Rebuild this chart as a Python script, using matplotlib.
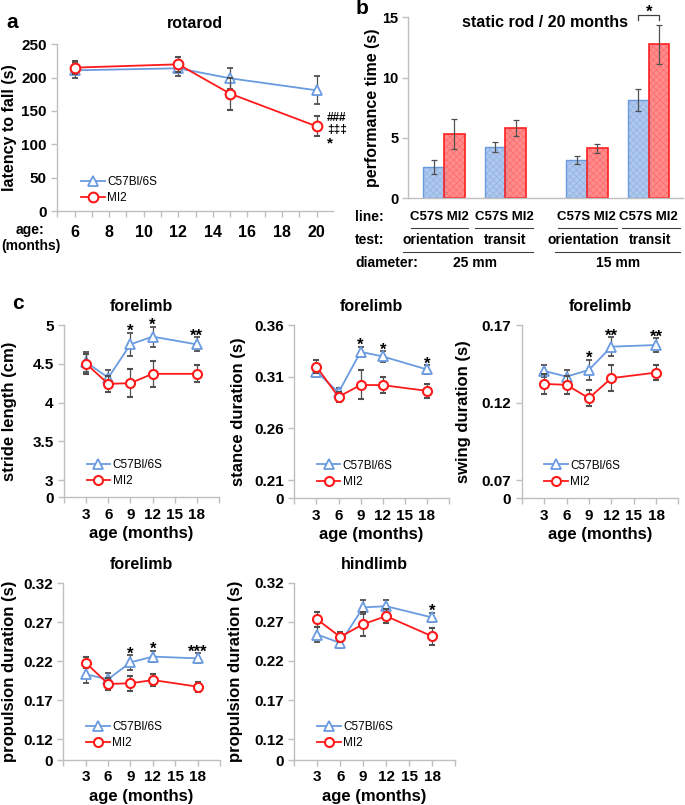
import matplotlib
matplotlib.use("Agg")
import matplotlib.pyplot as plt
import numpy as np

plt.rcParams['font.family'] = ['Liberation Sans', 'DejaVu Sans']
plt.rcParams['hatch.linewidth'] = 0.5

W, H = 685, 805
BLUE = '#6a9be0'
RED = '#ff1a1a'
ERRC = '#505050'
SPINE = '#bfbfbf'

# ---------------- data ----------------
# panel a: rotarod
rot_age = [6, 12, 15, 20]
rot_c57 = [211, 214, 199, 181]
rot_c57_err = [11, 11, 16, 21]
rot_mi2 = [215, 220, 176, 127]
rot_mi2_err = [10, 11, 24, 15]

# panel b: static rod
bar_tests = ['orientation', 'transit', 'orientation', 'transit']
bar_diam = ['25 mm', '15 mm']
bar_c57 = [2.6, 4.25, 3.2, 8.15]
bar_c57_err = [0.6, 0.45, 0.33, 0.9]
bar_mi2 = [5.35, 5.8, 4.15, 12.75]
bar_mi2_err = [1.25, 0.66, 0.36, 1.6]

# panel c: gait
ages = [3, 6, 9, 12, 18]
stride_c57 = [4.52, 4.32, 4.75, 4.85, 4.75]
stride_c57_err = [0.13, 0.10, 0.15, 0.13, 0.09]
stride_mi2 = [4.50, 4.24, 4.25, 4.37, 4.37]
stride_mi2_err = [0.13, 0.10, 0.18, 0.17, 0.11]
stride_stars = ['', '', '*', '*', '**']

stance_c57 = [0.315, 0.2947, 0.334, 0.3296, 0.317]
stance_c57_err = [0.005, 0.004, 0.005, 0.005, 0.004]
stance_mi2 = [0.3198, 0.2904, 0.302, 0.3018, 0.2963]
stance_mi2_err = [0.006, 0.005, 0.014, 0.008, 0.0065]
stance_stars = ['', '', '*', '*', '*']

swing_c57 = [0.1404, 0.1367, 0.141, 0.156, 0.1571]
swing_c57_err = [0.004, 0.0045, 0.0066, 0.006, 0.0045]
swing_mi2 = [0.132, 0.1314, 0.1228, 0.1357, 0.1393]
swing_mi2_err = [0.0065, 0.006, 0.005, 0.0085, 0.005]
swing_stars = ['', '', '*', '**', '**']

propf_c57 = [0.2033, 0.197, 0.2187, 0.226, 0.2238]
propf_c57_err = [0.011, 0.0075, 0.0096, 0.0075, 0.0064]
propf_mi2 = [0.2183, 0.191, 0.1918, 0.196, 0.1875]
propf_mi2_err = [0.0075, 0.0075, 0.0094, 0.0073, 0.0064]
propf_stars = ['', '', '*', '*', '***']

proph_c57 = [0.2538, 0.243, 0.2884, 0.290, 0.2756]
proph_c57_err = [0.009, 0.006, 0.009, 0.0075, 0.006]
proph_mi2 = [0.273, 0.2508, 0.267, 0.2773, 0.2516]
proph_mi2_err = [0.010, 0.0064, 0.0156, 0.009, 0.0107]
proph_stars = ['', '', '', '', '*']

# ---------------- helpers ----------------
fig = plt.figure(figsize=(W / 100, H / 100), dpi=100)


def add_ax(x0, x1, y0, y1):
    return fig.add_axes([x0 / W, 1 - y1 / H, (x1 - x0) / W, (y1 - y0) / H])


def ftext(x, y, s, **kw):
    fig.text(x / W, 1 - y / H, s, **kw)


def style_axes(ax):
    for s in ['top', 'right']:
        ax.spines[s].set_visible(False)
    for s in ['left', 'bottom']:
        ax.spines[s].set_color(SPINE)
        ax.spines[s].set_linewidth(1.0)
    ax.tick_params(axis='both', colors=SPINE, length=4, width=1.0,
                   labelcolor='black', labelsize=10.5)
    for lab in ax.get_xticklabels() + ax.get_yticklabels():
        lab.set_fontweight('bold')


def plot_series(ax, x, c57, c57e, mi2, mi2e, ms=6.5):
    ax.errorbar(x, c57, yerr=c57e, color=BLUE, lw=1.3, marker='^', ms=ms,
                mfc='white', mec=BLUE, mew=1.3, ecolor=ERRC, elinewidth=0.9,
                capsize=2, capthick=0.9, label='C57Bl/6S', zorder=3)
    ax.errorbar(x, mi2, yerr=mi2e, color=RED, lw=1.3, marker='o', ms=ms,
                mfc='white', mec=RED, mew=1.5, ecolor=ERRC, elinewidth=0.9,
                capsize=2, capthick=0.9, label='MI2', zorder=4)


def add_legend(ax, anchor):
    h, l = ax.get_legend_handles_labels()
    h = [hh[0] for hh in h]
    leg = ax.legend(h, l, loc='lower left', bbox_to_anchor=anchor, frameon=False,
                    fontsize=8.5, handlelength=2.0, handletextpad=0.2,
                    labelspacing=0.35, borderpad=0.1)
    return leg


def star(ax, x, y, s, dy_pt=-2.5, size=12):
    ax.annotate(s, (x, y), xytext=(0, dy_pt), textcoords='offset points',
                ha='center', va='baseline', fontsize=size, fontweight='bold',
                annotation_clip=False)


# ---------------- panel a ----------------
axa = add_ax(57.3, 333, 44.3, 211)
plot_series(axa, rot_age, rot_c57, rot_c57_err, rot_mi2, rot_mi2_err, ms=7)
axa.set_xlim(5, 20.95)
axa.set_ylim(0, 250)
axa.set_xticks(range(6, 21, 2))
axa.set_xticks(range(5, 21), minor=True)
axa.set_yticks(range(0, 251, 50))
style_axes(axa)
axa.tick_params(axis='x', which='minor', colors=SPINE, length=4, width=1.0)
axa.tick_params(axis='x', labelsize=11.5, pad=6)
axa.tick_params(axis='y', labelsize=11)
axa.set_ylabel('latency to fall (s)', fontsize=11.5, fontweight='bold')
axa.yaxis.set_label_coords(-0.145, 0.5)
axa.set_title('rotarod', fontsize=11.5, fontweight='bold', pad=12)
add_legend(axa, (0.06, 0.0))
axa.text(20.6, 139.5, '###', fontsize=8.5, fontweight='bold', va='center', ha='left',
         clip_on=False)
axa.text(20.6, 121.5, '\u2021\u2021\u2021', fontsize=8.5, fontweight='bold', va='center',
         ha='left', clip_on=False)
axa.text(20.6, 101, '*', fontsize=11, fontweight='bold', va='center', ha='left',
         clip_on=False)
ftext(30, 230, 'age:', fontsize=10, fontweight='bold', ha='center', va='center')
ftext(31, 246, '(months)', fontsize=10, fontweight='bold', ha='center', va='center')
ftext(12, 22, 'a', fontsize=15, fontweight='bold', ha='center', va='center')

# ---------------- panel b ----------------
axb = add_ax(408, 683, 17.3, 198.3)
group_pos = [1.74, 4.7, 8.66, 11.64]
bw = 1.0
for i, g in enumerate(group_pos):
    axb.bar(g - bw / 2, bar_c57[i], width=bw, color='#aec8ee', lw=0, zorder=2)
    axb.bar(g - bw / 2, bar_c57[i], width=bw, color='none', edgecolor='#93b3e3',
            hatch='xxxxx', lw=0, zorder=2.1)
    axb.bar(g - bw / 2, bar_c57[i], width=bw, color='none', edgecolor='#6a9be0',
            lw=1.0, zorder=2.2)
    axb.bar(g + bw / 2, bar_mi2[i], width=bw, color='#ff8c8c', lw=0, zorder=2)
    axb.bar(g + bw / 2, bar_mi2[i], width=bw, color='none', edgecolor='#ff6a6a',
            hatch='xxxxx', lw=0, zorder=2.1)
    axb.bar(g + bw / 2, bar_mi2[i], width=bw, color='none', edgecolor='#ff2020',
            lw=1.2, zorder=2.2)
    axb.errorbar(g - bw / 2, bar_c57[i], yerr=bar_c57_err[i], fmt='none', ecolor=ERRC,
                 elinewidth=0.9, capsize=2.5, capthick=0.9, zorder=3)
    axb.errorbar(g + bw / 2, bar_mi2[i], yerr=bar_mi2_err[i], fmt='none', ecolor=ERRC,
                 elinewidth=0.9, capsize=2.5, capthick=0.9, zorder=3)
axb.set_xlim(0, 13.3)
axb.set_ylim(0, 15)
axb.set_xticks([])
axb.set_yticks([0, 5, 10, 15])
style_axes(axb)
axb.tick_params(axis='y', labelsize=10.5, pad=3)
axb.set_ylabel('performance time (s)', fontsize=11.5, fontweight='bold')
axb.yaxis.set_label_coords(-0.102, 0.5)
axb.text(0.498, 0.97, 'static rod / 20 months', transform=axb.transAxes, ha='center',
         va='center', fontsize=11.5, fontweight='bold')
# significance bracket
g = group_pos[3]
axb.plot([g - bw / 2, g - bw / 2, g + bw / 2, g + bw / 2], [14.75, 15.15, 15.15, 14.75],
         color='#404040', lw=0.9, clip_on=False)
axb.text(g, 15.4, '*', ha='center', va='center', fontsize=12, fontweight='bold')
ftext(362, 8, 'b', fontsize=15, fontweight='bold', ha='center', va='center')

# table under panel b
ftext(355, 217, 'line:', fontsize=10, fontweight='bold', ha='left', va='center')
ftext(355, 240, 'test:', fontsize=10, fontweight='bold', ha='left', va='center')
ftext(355, 263, 'diameter:', fontsize=10, fontweight='bold', ha='left', va='center')
line_x = [439, 504, 586, 648]
test_x = [438, 505, 583, 650]
ul1 = [(411, 468), (475, 533), (558, 617), (622, 680)]
for i in range(4):
    ftext(line_x[i], 217, 'C57S MI2', fontsize=9.5, fontweight='bold', ha='center',
          va='center')
    ftext(test_x[i], 240, bar_tests[i], fontsize=10, fontweight='bold', ha='center',
          va='center')
    fig.add_artist(plt.Line2D([ul1[i][0] / W, ul1[i][1] / W], [1 - 228 / H, 1 - 228 / H],
                              color='#404040', lw=0.8))
ul2 = [(403, 533), (555, 680)]
diam_x = [475, 618]
for i in range(2):
    fig.add_artist(plt.Line2D([ul2[i][0] / W, ul2[i][1] / W], [1 - 252 / H, 1 - 252 / H],
                              color='#404040', lw=0.8))
    ftext(diam_x[i], 263, bar_diam[i], fontsize=10, fontweight='bold', ha='center',
          va='center')

# ---------------- panel c ----------------
gait_panels = [
    (64, 219, 325, 497.3, stride_c57, stride_c57_err, stride_mi2, stride_mi2_err,
     stride_stars, [3, 3.5, 4, 4.5, 5], 2.777, 5.0, 'stride length (cm)', 'forelimb',
     ['3', '3.5', '4', '4.5', '5'], -0.30),
    (294.3, 449, 325, 498.3, stance_c57, stance_c57_err, stance_mi2, stance_mi2_err,
     stance_stars, [0.21, 0.26, 0.31, 0.36], 0.1923, 0.36, 'stance duration (s)',
     'forelimb', ['0.21', '0.26', '0.31', '0.36'], -0.312),
    (521.7, 678.5, 325, 498.3, swing_c57, swing_c57_err, swing_mi2, swing_mi2_err,
     swing_stars, [0.07, 0.12, 0.17], 0.0582, 0.17, 'swing duration (s)', 'forelimb',
     ['0.07', '0.12', '0.17'], -0.323),
    (63.3, 220, 583.3, 760, propf_c57, propf_c57_err, propf_mi2, propf_mi2_err,
     propf_stars, [0.12, 0.17, 0.22, 0.27, 0.32], 0.0935, 0.32,
     'propulsion duration (s)', 'forelimb', ['0.12', '0.17', '0.22', '0.27', '0.32'],
     -0.295),
    (294.3, 455, 582.7, 760, proph_c57, proph_c57_err, proph_mi2, proph_mi2_err,
     proph_stars, [0.12, 0.17, 0.22, 0.27, 0.32], 0.0935, 0.32,
     'propulsion duration (s)', 'hindlimb', ['0.12', '0.17', '0.22', '0.27', '0.32'],
     -0.319),
]

for (x0, x1, y0, y1, c57, c57e, mi2, mi2e, stars, ticks, fake0, top, ylab, title,
     labs, lx) in gait_panels:
    ax = add_ax(x0, x1, y0, y1)
    plot_series(ax, ages, c57, c57e, mi2, mi2e, ms=6.5)
    ax.set_xlim(0, 21)
    ax.set_ylim(fake0, top)
    ax.set_xticks(range(0, 22, 3))
    ax.set_xticklabels([''] + [str(a) for a in range(3, 19, 3)] + [''])
    ax.set_yticks([fake0] + ticks)
    ax.set_yticklabels(['0'] + labs)
    style_axes(ax)
    ax.tick_params(axis='both', labelsize=11)
    ax.set_xlabel('age (months)', fontsize=12, fontweight='bold', labelpad=3)
    ax.set_ylabel(ylab, fontsize=12, fontweight='bold')
    ax.yaxis.set_label_coords(lx, 0.5)
    ax.set_title(title, fontsize=11.5, fontweight='bold', pad=10)
    for xa, s, v1, e1, v2, e2 in zip(ages, stars, c57, c57e, mi2, mi2e):
        if s:
            star(ax, xa, max(v1 + e1, v2 + e2), s)
    add_legend(ax, (0.1, 0.02))

ftext(18, 303, 'c', fontsize=15, fontweight='bold', ha='center', va='center')

fig.savefig('out.png', dpi=100)
